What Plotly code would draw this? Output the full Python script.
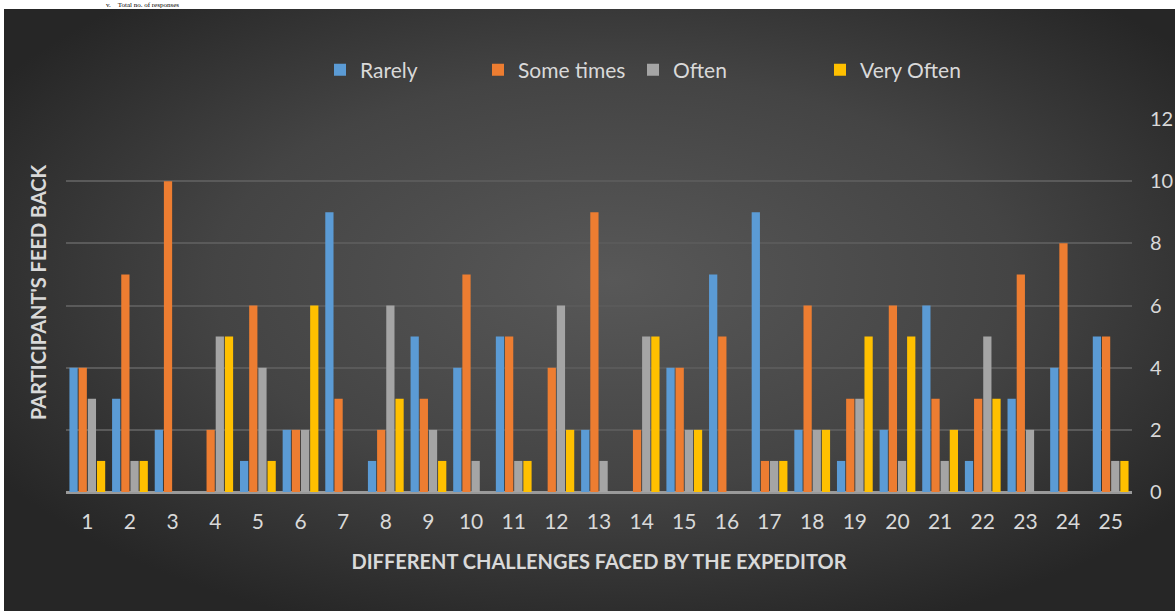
import base64
import plotly.graph_objects as go

categories = [str(i) for i in range(1, 26)]
rarely     = [4, 3, 2, 0, 1, 2, 9, 1, 5, 4, 5, 0, 2, 0, 4, 7, 9, 2, 1, 2, 6, 1, 3, 4, 5]
some_times = [4, 7, 10, 2, 6, 2, 3, 2, 3, 7, 5, 4, 9, 2, 4, 5, 1, 6, 3, 6, 3, 3, 7, 8, 5]
often      = [3, 1, 0, 5, 4, 2, 0, 6, 2, 1, 1, 6, 1, 5, 2, 0, 1, 2, 3, 1, 1, 5, 2, 0, 1]
very_often = [1, 1, 0, 5, 1, 6, 0, 3, 1, 0, 1, 2, 0, 5, 2, 0, 1, 2, 5, 5, 2, 3, 0, 0, 1]
y_ticks = [0, 2, 4, 6, 8, 10, 12]

series = [
    ("Rarely", rarely, "#5B9BD5"),
    ("Some times", some_times, "#ED7D31"),
    ("Often", often, "#A5A5A5"),
    ("Very Often", very_often, "#FFC000"),
]

W, H = 1175, 611
L, R, T, B = 66, 43, 119, 119
pw, ph = W - L - R, H - T - B

def px_x(x):
    return (x - L) / pw

def px_y(y):
    return (H - B - y) / ph

legend_x = [320, 478, 633, 820]
legend_names = ["legend", "legend2", "legend3", "legend4"]

fig = go.Figure()
for i, (name, vals, col) in enumerate(series):
    fig.add_trace(go.Bar(
        x=categories, y=vals, name=name,
        marker=dict(color=col, line=dict(width=0)),
        legend=legend_names[i],
    ))

svg = f'''<svg xmlns="http://www.w3.org/2000/svg" width="{W-4}" height="{H-9}" viewBox="0 0 {W-4} {H-9}">
<defs><radialGradient id="g" cx="0.52" cy="0.45" r="0.62" gradientUnits="objectBoundingBox">
<stop offset="0" stop-color="#585858"/><stop offset="0.55" stop-color="#444444"/><stop offset="1" stop-color="#262626"/>
</radialGradient></defs>
<rect width="100%" height="100%" fill="url(#g)"/></svg>'''
src = "data:image/svg+xml;base64," + base64.b64encode(svg.encode()).decode()

x0, x1 = px_x(4), px_x(W)
y_top, y_bot = px_y(9), px_y(H)
fig.add_layout_image(dict(
    source=src, xref="paper", yref="paper", x=x0, y=y_top,
    sizex=x1 - x0, sizey=y_top - y_bot, xanchor="left", yanchor="top",
    sizing="stretch", layer="below",
))

legend_common = dict(orientation="h", xanchor="left", yanchor="middle",
                     bgcolor="rgba(0,0,0,0)",
                     font=dict(family="Lato", size=21, color="#D9D9D9"),
                     itemsizing="constant")
layout_legends = {}
for i, ln in enumerate(legend_names):
    layout_legends[ln] = dict(legend_common, x=px_x(legend_x[i]), y=px_y(70))

fig.update_layout(
    width=W, height=H,
    margin=dict(l=L, r=R, t=T, b=B, autoexpand=False),
    paper_bgcolor="white",
    plot_bgcolor="rgba(0,0,0,0)",
    barmode="group",
    bargap=0.14,
    bargroupgap=0.1,
    showlegend=True,
    **layout_legends,
    xaxis=dict(
        type="category", automargin=False,
        tickfont=dict(family="Lato", size=21, color="#D9D9D9"),
        ticks="", showgrid=False, showline=False, zeroline=False,
        ticklabelstandoff=15,
        title=dict(text="<b>DIFFERENT CHALLENGES FACED BY THE EXPEDITOR</b>",
                   font=dict(family="Lato", size=20, color="#D9D9D9"), standoff=22),
    ),
    yaxis=dict(
        side="right", range=[0, 12], tickvals=y_ticks, automargin=False,
        tickfont=dict(family="Lato", size=20, color="#D9D9D9"),
        ticks="", showline=False,
        showgrid=True, gridcolor="#5A5A5A", gridwidth=1.5,
        zeroline=True, zerolinecolor="#9A9A9A", zerolinewidth=3,
        ticklabelstandoff=17,
    ),
    annotations=[
        dict(text="<b>PARTICIPANT'S FEED BACK</b>", textangle=-90,
             xref="paper", yref="paper", x=px_x(38), y=px_y(292),
             xanchor="center", yanchor="middle", showarrow=False,
             font=dict(family="Lato", size=20, color="#D9D9D9")),
        dict(text="v.    Total no. of responses",
             xref="paper", yref="paper", x=px_x(105), y=px_y(0),
             xanchor="left", yanchor="top", showarrow=False, borderpad=0,
             font=dict(family="Liberation Serif", size=7, color="black")),
    ],
)

fig.write_html("out.html")
